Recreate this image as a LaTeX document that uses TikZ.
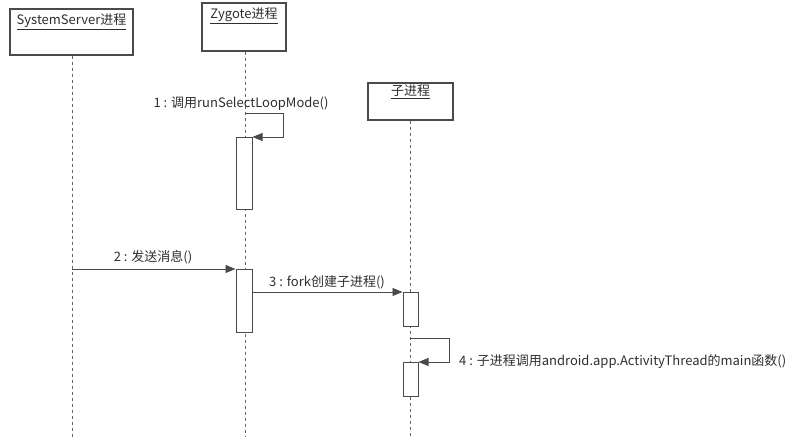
\documentclass[tikz,border=0pt]{standalone}
\usepackage{fontspec}
\setmainfont{Noto Sans CJK SC}
\usetikzlibrary{arrows.meta}
\definecolor{ln}{HTML}{4A4A4A}
\definecolor{tx}{HTML}{2E2E2E}
\tikzset{
  x=1pt,y=-1pt,
  headbox/.style={draw=ln,line width=1.1pt,fill=white,rectangle,inner sep=0pt},
  headtext/.style={anchor=north,inner sep=0pt,text=tx,font=\fontsize{13}{14}\selectfont},
  actbox/.style={draw=ln,line width=1pt,fill=white,rectangle,inner sep=0pt,minimum width=16pt},
  lifeline/.style={draw=ln!85,line width=0.9pt,dash pattern=on 3pt off 3pt},
  msg/.style={draw=ln,line width=0.9pt,-{Triangle[length=10pt,width=8pt]}},
  lbl/.style={inner sep=0pt,text=tx,font=\fontsize{13}{14}\selectfont}
}
\begin{document}
\begin{tikzpicture}
\useasboundingbox (0,0) rectangle (800,443);
% heads
\node[headbox,minimum width=123pt,minimum height=46pt] (ss) at (71.5,32) {};
\node[headtext] (sst) at (71.5,14) {\underline{SystemServer进程}};
\node[headbox,minimum width=84pt,minimum height=48pt] (zy) at (244,27) {};
\node[headtext] (zyt) at (244,8) {\underline{Zygote进程}};
\node[headbox,minimum width=85pt,minimum height=37pt] (ch) at (410.5,101.5) {};
\node[headtext] (cht) at (410.5,85) {\underline{子进程}};
% lifeline ends
\coordinate (ssend) at (72,437);
\coordinate (zyend) at (245,437);
\coordinate (chend) at (410,437);
\draw[lifeline] (ss.south -| ssend) -- (ssend);
\draw[lifeline] (zy.south -| zyend) -- (zyend);
\draw[lifeline] (ch.south -| chend) -- (chend);
% activations
\node[actbox,anchor=north,minimum height=72pt] (a1) at (244,137) {};
\node[actbox,anchor=north,minimum height=63pt] (a2) at (244,269) {};
\node[actbox,anchor=north,minimum width=15pt,minimum height=34pt] (a3) at (410.5,292) {};
\node[actbox,anchor=north,minimum width=15pt,minimum height=34pt] (a4) at (410.5,362) {};
% message 1 (self)
\coordinate (m1s) at (245,113);
\coordinate (m1r) at (283,113);
\draw[msg] (m1s) -- (m1r) |- (a1.north east);
\node[lbl] (l1) at (241,104) {1 : 调用runSelectLoopMode()};
% message 2
\coordinate (m2s) at (72,269);
\draw[msg] (m2s) -- (a2.north west);
\node[lbl] (l2) at (153,257) {2 : 发送消息()};
% message 3
\draw[msg] (a2.east |- a3.north) -- (a3.north west);
\node[lbl] (l3) at (327,282) {3 : fork创建子进程()};
% message 4 (self)
\coordinate (m4s) at (410,338);
\coordinate (m4r) at (449,338);
\draw[msg] (m4s) -- (m4r) |- (a4.north east);
\node[lbl,anchor=west] (l4) at (459,362) {4 : 子进程调用android.app.ActivityThread的main函数()};
\end{tikzpicture}
\end{document}
